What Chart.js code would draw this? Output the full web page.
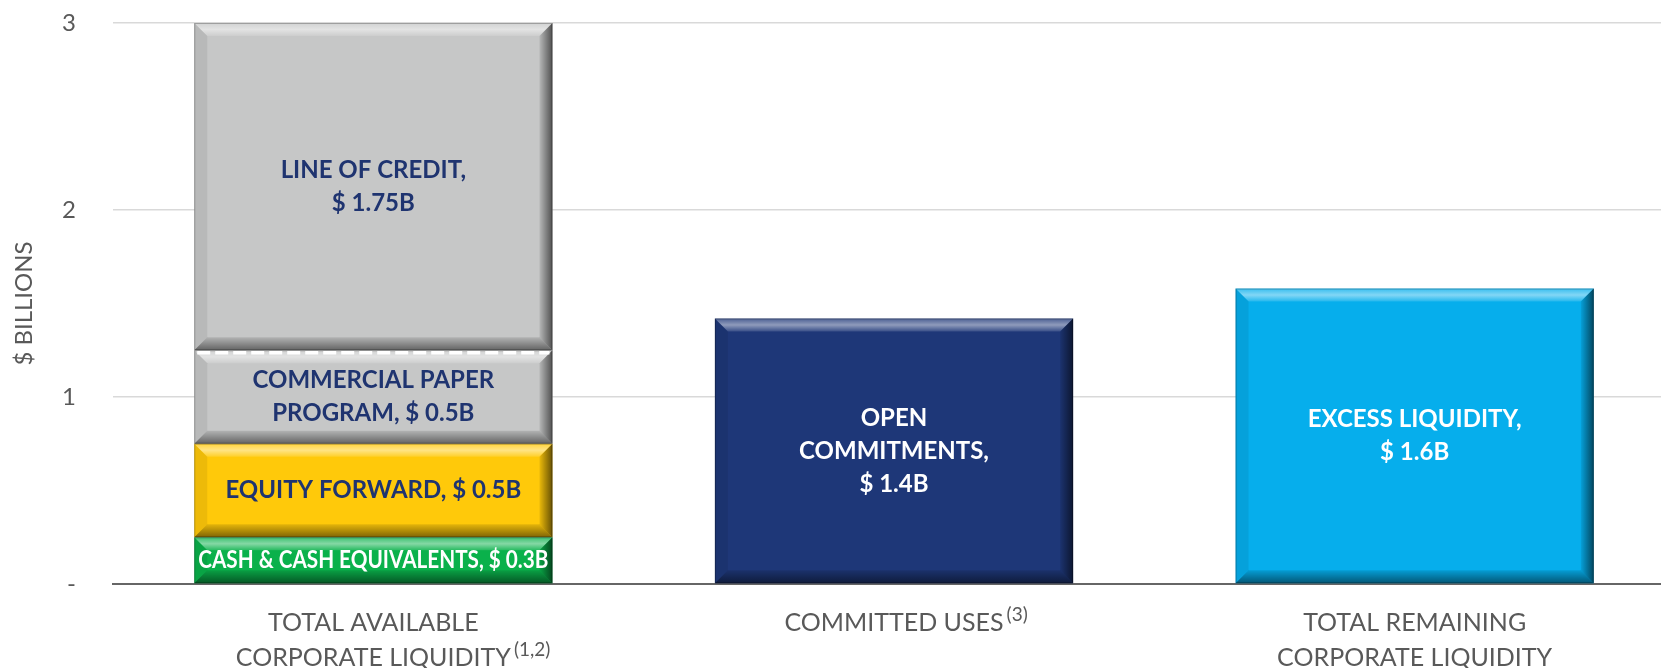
<!DOCTYPE html>
<html>
<head>
<meta charset="utf-8">
<title>Corporate Liquidity</title>
<script src="https://cdn.jsdelivr.net/npm/chart.js@4.4.1/dist/chart.umd.min.js"></script>
<style>
  html, body { margin: 0; padding: 0; background: #fff; overflow: hidden; }
  #wrap { position: relative; width: 1675px; height: 668px; }
</style>
</head>
<body>
<div id="wrap"><canvas id="liquidityChart"></canvas></div>
<script>
// Categories and footnote markers under each bar
const categories = [
  ["TOTAL AVAILABLE", "CORPORATE LIQUIDITY"],
  ["COMMITTED USES"],
  ["TOTAL REMAINING", "CORPORATE LIQUIDITY"],
]
const footnotes = ["(1,2)", "(3)", ""]

// $ billions
const cashEquivalents = [0.25, null, null]
const equityForward = [0.5, null, null]
const commercialPaper = [0.5, null, null]
const lineOfCredit = [1.75, null, null]
const openCommitments = [null, 1.42, null]
const excessLiquidity = [null, null, 1.58]

const yTicks = [0, 1, 2, 3]
const yTickLabels = ["-", "1", "2", "3"]

// in-bar text
const cashText = ["CASH & CASH EQUIVALENTS, $ 0.3B"]
const equityText = ["EQUITY FORWARD, $ 0.5B"]
const paperText = ["COMMERCIAL PAPER", "PROGRAM, $ 0.5B"]
const creditText = ["LINE OF CREDIT,", "$ 1.75B"]
const commitmentsText = ["OPEN", "COMMITMENTS,", "$ 1.4B"]
const excessText = ["EXCESS LIQUIDITY,", "$ 1.6B"]

const FONT = "Lato, 'Open Sans', sans-serif"
const NAVY_TEXT = "#1F3470"
const AXIS_TEXT = "#595959"

function poly(ctx, pts) {
  ctx.beginPath()
  ctx.moveTo(pts[0][0], pts[0][1])
  for (let i = 1; i < pts.length; i++) ctx.lineTo(pts[i][0], pts[i][1])
  ctx.closePath()
}

// Excel-ish bevel on every bar, plus the in-bar labels
const bevelPlugin = {
  id: "bevel",
  afterDatasetsDraw(chart) {
    const ctx = chart.ctx
    chart.data.datasets.forEach((ds, di) => {
      const meta = chart.getDatasetMeta(di)
      meta.data.forEach((bar, i) => {
        if (ds.data[i] == null) return
        const { x, y, base, width } = bar.getProps(["x", "y", "base", "width"], true)
        const l = x - width / 2
        const r = x + width / 2
        const t = Math.min(y, base)
        const b = Math.max(y, base)
        const e = Math.min(13, (b - t) / 3)
        ctx.save()

        // top highlight
        let g = ctx.createLinearGradient(0, t, 0, t + e)
        g.addColorStop(0, "rgba(255,255,255,0.2)")
        g.addColorStop(0.5, "rgba(255,255,255,0.5)")
        g.addColorStop(1, "rgba(255,255,255,0.12)")
        ctx.fillStyle = g
        poly(ctx, [[l, t], [r, t], [r - e, t + e], [l + e, t + e]])
        ctx.fill()

        // left edge
        ctx.fillStyle = "rgba(0,0,0,0.07)"
        poly(ctx, [[l, t], [l + e, t + e], [l + e, b - e], [l, b]])
        ctx.fill()

        // right edge
        g = ctx.createLinearGradient(r - e, 0, r, 0)
        g.addColorStop(0, "rgba(0,0,0,0.08)")
        g.addColorStop(1, "rgba(0,0,0,0.6)")
        ctx.fillStyle = g
        poly(ctx, [[r, t], [r, b], [r - e, b - e], [r - e, t + e]])
        ctx.fill()

        // bottom edge
        g = ctx.createLinearGradient(0, b - e, 0, b)
        g.addColorStop(0, "rgba(0,0,0,0.1)")
        g.addColorStop(1, "rgba(0,0,0,0.5)")
        ctx.fillStyle = g
        poly(ctx, [[l, b], [r, b], [r - e, b - e], [l + e, b - e]])
        ctx.fill()

        ctx.strokeStyle = "rgba(0,0,0,0.25)"
        ctx.lineWidth = 1
        ctx.strokeRect(l + 0.5, t + 0.5, width - 1, b - t - 1)

        if (ds.dashedTop) {
          ctx.strokeStyle = "#ffffff"
          ctx.lineWidth = 3.5
          ctx.setLineDash([13, 5])
          ctx.beginPath()
          ctx.moveTo(l + 3, t + 2.5)
          ctx.lineTo(r - 3, t + 2.5)
          ctx.stroke()
          ctx.setLineDash([])
        }

        // label, squeezed sideways if it is wider than the bar
        const lines = ds.textLines
        ctx.font = `bold 24px ${FONT}`
        ctx.fillStyle = ds.textColor
        ctx.textAlign = "center"
        ctx.textBaseline = "middle"
        const lh = 33
        const cy = (t + b) / 2 - ((lines.length - 1) * lh) / 2
        lines.forEach((s, k) => ctx.fillText(s, x, cy + k * lh, width - 8))
        ctx.restore()
      })
    })
  },
}

// category labels with superscript footnotes
const xLabelPlugin = {
  id: "xLabels",
  afterDraw(chart) {
    const ctx = chart.ctx
    const xs = chart.scales.x
    const bottom = chart.chartArea.bottom
    ctx.save()
    ctx.fillStyle = AXIS_TEXT
    ctx.textBaseline = "alphabetic"
    categories.forEach((lines, i) => {
      const x = xs.getPixelForValue(i)
      lines.forEach((s, k) => {
        const baseY = bottom + 47 + k * 35
        ctx.font = `25px ${FONT}`
        ctx.textAlign = "center"
        ctx.fillText(s, x, baseY)
        if (k === lines.length - 1 && footnotes[i]) {
          const w = ctx.measureText(s).width
          ctx.font = `19px ${FONT}`
          ctx.textAlign = "left"
          ctx.fillText(footnotes[i], x + w / 2 + 3, baseY - 10)
        }
      })
    })
    ctx.restore()
  },
}

const ctx = document.getElementById("liquidityChart")
new Chart(ctx, {
  type: "bar",
  data: {
    labels: categories.map(c => c.join(" ")),
    datasets: [
      { label: "Cash & Cash Equivalents", data: cashEquivalents, backgroundColor: "#0AB14B", textColor: "#ffffff", textLines: cashText },
      { label: "Equity Forward", data: equityForward, backgroundColor: "#FFC90A", textColor: NAVY_TEXT, textLines: equityText },
      { label: "Commercial Paper Program", data: commercialPaper, backgroundColor: "#C6C7C7", textColor: NAVY_TEXT, textLines: paperText, dashedTop: true },
      { label: "Line of Credit", data: lineOfCredit, backgroundColor: "#C6C7C7", textColor: NAVY_TEXT, textLines: creditText },
      { label: "Open Commitments", data: openCommitments, backgroundColor: "#1E3778", textColor: "#ffffff", textLines: commitmentsText },
      { label: "Excess Liquidity", data: excessLiquidity, backgroundColor: "#06AEEC", textColor: "#ffffff", textLines: excessText },
    ],
  },
  options: {
    responsive: true,
    maintainAspectRatio: false,
    animation: false,
    layout: { padding: { top: 23, left: 0, right: 0, bottom: 0 } },
    datasets: {
      bar: { categoryPercentage: 1, barPercentage: 0.688, borderWidth: 0 },
    },
    plugins: {
      legend: { display: false },
      tooltip: { enabled: false },
    },
    scales: {
      x: {
        stacked: true,
        grid: { display: false },
        border: { display: true, color: "#666666", width: 2 },
        ticks: { display: false },
        afterFit: (scale) => { scale.height = 84 },
      },
      y: {
        stacked: true,
        min: 0,
        max: 3,
        afterBuildTicks: (scale) => { scale.ticks = yTicks.map(v => ({ value: v })) },
        ticks: {
          padding: 37,
          color: AXIS_TEXT,
          font: { family: FONT, size: 24 },
          callback: (v) => yTickLabels[yTicks.indexOf(v)],
        },
        grid: { color: "#D9D9D9", lineWidth: 1.5, drawTicks: false },
        border: { display: false },
        title: {
          display: true,
          text: "$ BILLIONS",
          color: AXIS_TEXT,
          font: { family: FONT, size: 24 },
          padding: { top: 10, bottom: 0 },
        },
        afterFit: (scale) => {
          scale.width = 113
          scale.paddingTop = 0
          scale.paddingBottom = 0
        },
      },
    },
  },
  plugins: [bevelPlugin, xLabelPlugin],
})
</script>
</body>
</html>
